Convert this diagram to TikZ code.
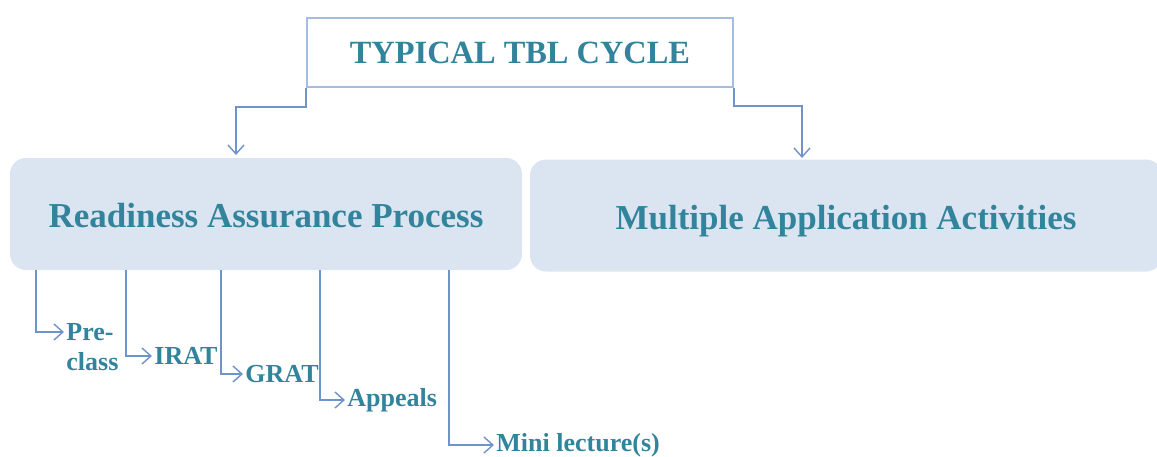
\documentclass[tikz,border=0pt]{standalone}
\usepackage{fontspec}
\setmainfont{Liberation Serif}
\usetikzlibrary{positioning, arrows.meta}
\definecolor{tealtext}{HTML}{31849B}
\definecolor{boxfill}{HTML}{DBE5F1}
\definecolor{linkblue}{HTML}{6F93CB}
\definecolor{titleline}{HTML}{A5BEDF}
\begin{document}
\begin{tikzpicture}[x = 0.5pt, y = -0.5pt,
    every node/.style = { text = tealtext },
    title/.style = { draw = titleline, line width = 1pt, minimum width = 213pt, minimum height = 34.5pt,
                     font = \fontsize{16.2}{19}\selectfont\bfseries },
    phase/.style = { fill = boxfill, rounded corners = 8pt, minimum height = 56pt,
                     text height = 13.5pt, text depth = 0pt,
                     font = \fontsize{17.5}{20}\selectfont\bfseries },
    stagelabel/.style = { anchor = west, inner sep = 1pt, align = left,
                          font = \fontsize{13}{15}\selectfont\bfseries },
    link/.style = { draw = linkblue, line width = 0.7pt, -{Straight Barb[length = 4.5pt, width = 8pt]} }]
    \useasboundingbox (0,0) rectangle (1157,456);
    \clip (0,0) rectangle (1157,456);

    \node [title] (cycle) at (520,52.5) { TYPICAL TBL CYCLE };
    \node [phase, minimum width = 256pt] (rap) at (266,214) { Readiness Assurance Process };
    \node [phase, minimum width = 316pt] (maa) at (846,215.5) { Multiple Application Activities };

    \coordinate (rapin) at (236,155);
    \coordinate (maain) at (802,158);
    \draw [link] (cycle.south west) -- ++(0,19) -| (rapin);
    \draw [link] (cycle.south east) -- ++(0,18) -| (maain);

    % steps of the readiness assurance process
    \node [stagelabel] (pre) at (64,347) { Pre-\\class };
    \node [stagelabel] (irat) at (152,356) { IRAT };
    \node [stagelabel] (grat) at (243,374) { GRAT };
    \node [stagelabel] (appeals) at (345,400) { Appeals };
    \node [stagelabel] (mini) at (494,445) { Mini lecture(s) };

    \draw [link] (rap.south -| 36,0) |- ([yshift = 7.5pt]pre.west);
    \foreach \x/\n in {126/irat, 221/grat, 320/appeals, 449/mini}
      \draw [link] (rap.south -| \x,0) |- (\n.west);
\end{tikzpicture}
\end{document}
